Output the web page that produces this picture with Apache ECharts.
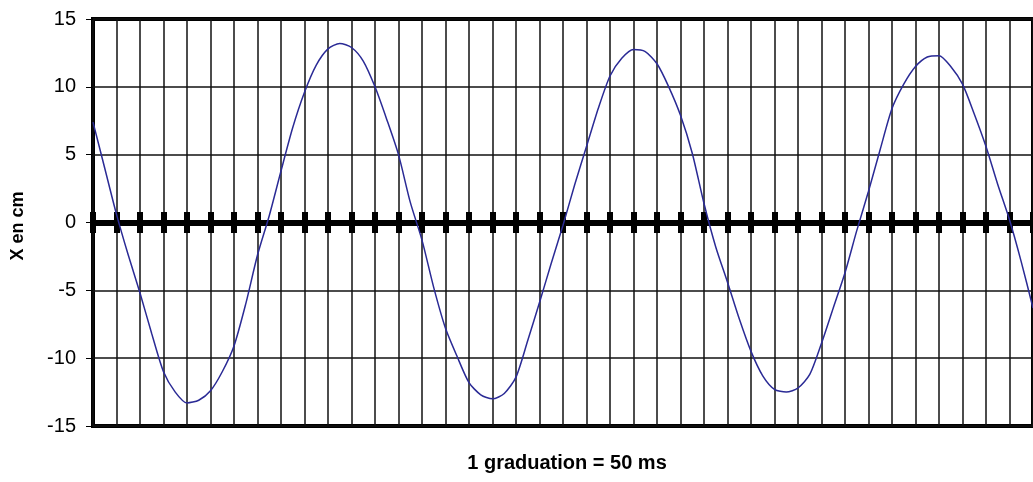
<!DOCTYPE html>
<html>
<head>
<meta charset="utf-8">
<script src="https://cdn.jsdelivr.net/npm/echarts@6/dist/echarts.min.js"></script>
<style>
html,body{margin:0;padding:0;background:#fff;}
#chart{width:1033px;height:482px;}
</style>
</head>
<body>
<div id="chart"></div>
<script>
// time in ms (one graduation = 50 ms, samples every 25 ms)
const timesMs = [
  0,25,50,75,100,125,150,175,200,225,250,275,300,325,350,375,400,425,450,475,
  500,525,550,575,600,625,650,675,700,725,750,775,800,825,850,875,900,925,950,975,
  1000,1025,1050,1075,1100,1125,1150,1175,1200,1225,1250,1275,1300,1325,1350,1375,1400,1425,1450,1475,
  1500,1525,1550,1575,1600,1625,1650,1675,1700,1725,1750,1775,1800,1825,1850,1875,1900,1925,1950,1975,2000
];
// position X in cm
const positionCm = [
  7.4,4.0,0.6,-2.4,-5.2,-8.2,-11.0,-12.5,-13.3,-13.1,
  -12.4,-11.0,-9.1,-6.0,-2.4,0.5,3.8,7.0,9.6,11.6,
  12.8,13.2,12.9,11.9,10.0,7.6,5.0,1.5,-1.3,-4.8,
  -7.8,-9.9,-11.8,-12.7,-13.0,-12.6,-11.4,-8.7,-5.9,-3.0,
  -0.2,2.8,5.6,8.4,10.8,12.1,12.75,12.6,11.7,10.0,
  7.9,5.1,1.4,-1.8,-4.4,-7.1,-9.5,-11.3,-12.3,-12.5,
  -12.2,-11.2,-8.9,-6.3,-3.7,-0.6,2.3,5.4,8.4,10.2,
  11.5,12.2,12.3,11.5,10.2,8.0,5.6,2.8,0.2,-2.9,-6.3
];
const yTicks = [-15,-10,-5,0,5,10,15];
const yTitle = 'X en cm';
const xTitle = '1 graduation = 50 ms';

const chart = echarts.init(document.getElementById('chart'), null, {renderer:'canvas'});
const font = '"Liberation Sans", Arial, sans-serif';
const xAxisBase = {
  type:'value', min:0, max:2000, interval:50,
  axisLine:{show:true, onZero:true, onZeroAxisIndex:0, lineStyle:{color:'#000', width:6}},
  axisTick:{show:true, length:10.5, lineStyle:{color:'#000', width:6}},
  axisLabel:{show:false}
};
chart.setOption({
  animation:false,
  backgroundColor:'#fff',
  grid:{left:93, top:19, width:946, height:407, show:true, borderColor:'#000', borderWidth:4, backgroundColor:'transparent'},
  xAxis:[
    Object.assign({}, xAxisBase, {position:'bottom', splitLine:{show:true, lineStyle:{color:'#111', width:1.5}}}),
    Object.assign({}, xAxisBase, {position:'bottom', axisTick:{show:true, inside:true, length:10.5, lineStyle:{color:'#000', width:6}}, splitLine:{show:false}})
  ],
  yAxis:{
    type:'value', min:yTicks[0], max:yTicks[yTicks.length-1], interval:5,
    axisLine:{show:false},
    axisTick:{show:true, length:7, lineStyle:{color:'#000', width:1}},
    axisLabel:{show:true, color:'#000', fontSize:20, fontFamily:font, margin:17},
    splitLine:{show:true, lineStyle:{color:'#111', width:1.5}}
  },
  graphic:[
    {type:'text', position:[18,226], rotation:Math.PI/2,
      style:{text:yTitle, font:'bold 18px '+font, fill:'#000', textAlign:'center', textVerticalAlign:'middle'}},
    {type:'text', position:[567,463],
      style:{text:xTitle, font:'bold 20px '+font, fill:'#000', textAlign:'center', textVerticalAlign:'middle'}}
  ],
  series:[{
    type:'line', xAxisIndex:0,
    data: timesMs.map((t,i)=>[t, positionCm[i]]),
    showSymbol:false, smooth:0.25,
    lineStyle:{color:'#2a2a95', width:1.5},
    z:5
  }]
});
</script>
</body>
</html>
